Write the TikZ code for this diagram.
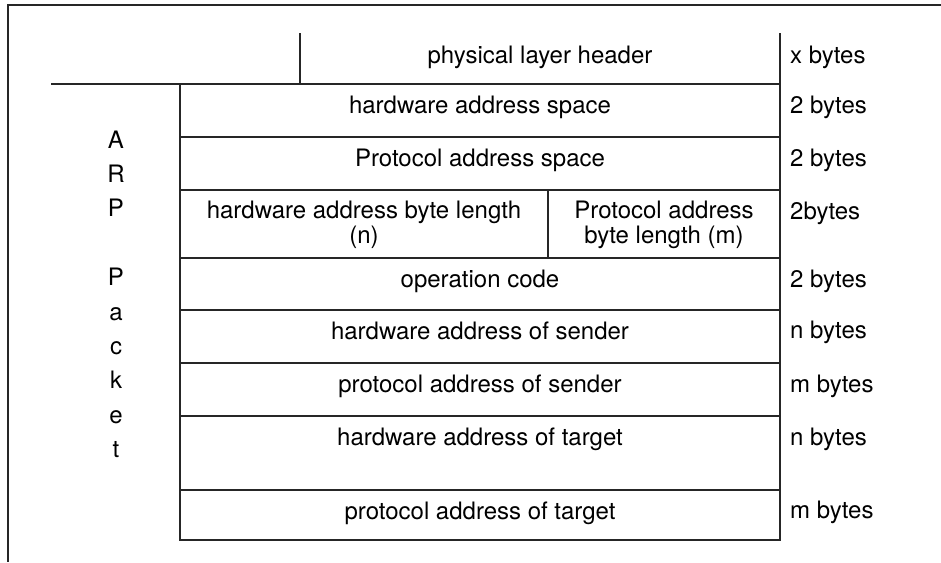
\documentclass[tikz,border=0pt]{standalone}
\usepackage{fontspec}
\setmainfont{TeX Gyre Heros}
\begin{document}
\begin{tikzpicture}[x=1pt,y=-1pt,
  rule/.style={line width=1.1pt, black!85},
  thickrule/.style={line width=2.6pt, black!85},
  txt/.style={font=\fontsize{24}{25.5}\selectfont, inner sep=0pt, anchor=base, text=black},
  sizelbl/.style={txt, anchor=base west},
  twoline/.style={txt, align=center, anchor=center}]
\useasboundingbox (0,0) rectangle (941,562);
% outer frame (top and left)
\draw[rule] (941,5) -- (8,5) -- (8,562);
% header
\draw[rule] (300,33) -- (300,84);
\draw[rule] (51,84) -- (780,84);
\draw[rule] (780,33) -- (780,540);
\draw[rule] (180,84) -- (180,540);
\foreach \yy in {137,190,258,310,363,416,490}
  \draw[rule] (180,\yy) -- (780,\yy);
\draw[rule] (548,190) -- (548,258);
\draw[thickrule] (179,540) -- (781,540);
% field texts
\node[txt] (phy) at (540,63) {physical layer header};
\node[txt] (has) at (480,113) {hardware address space};
\node[txt] (pas) at (480,166) {Protocol address space};
\node[twoline] (hbl) at (364,225) {hardware address byte length\\(n)};
\node[twoline] (pbl) at (664,225) {Protocol address\\byte length (m)};
\node[txt] (op) at (480,287) {operation code};
\node[txt] (has2) at (480,339) {hardware address of sender};
\node[txt] (pas2) at (480,392) {protocol address of sender};
\node[txt] (hat) at (480,445) {hardware address of target};
\node[txt] (pat) at (480,519) {protocol address of target};
% sizes
\node[sizelbl] (s0) at (790,63) {x bytes};
\node[sizelbl] (s1) at (790,113) {2 bytes};
\node[sizelbl] (s2) at (790,166) {2 bytes};
\node[sizelbl] (s3) at (790,219) {2bytes};
\node[sizelbl] (s4) at (790,287) {2 bytes};
\node[sizelbl] (s5) at (790,338) {n bytes};
\node[sizelbl] (s6) at (790,392) {m bytes};
\node[sizelbl] (s7) at (790,445) {n bytes};
\node[sizelbl] (s8) at (790,518) {m bytes};
% vertical ARP Packet label
\foreach \ch [count=\i from 0] in {A,R,P,{},P,a,c,k,e,t}
  \node[txt] (arp\i) at (116,148+34.4*\i) {\ch};
\end{tikzpicture}
\end{document}
